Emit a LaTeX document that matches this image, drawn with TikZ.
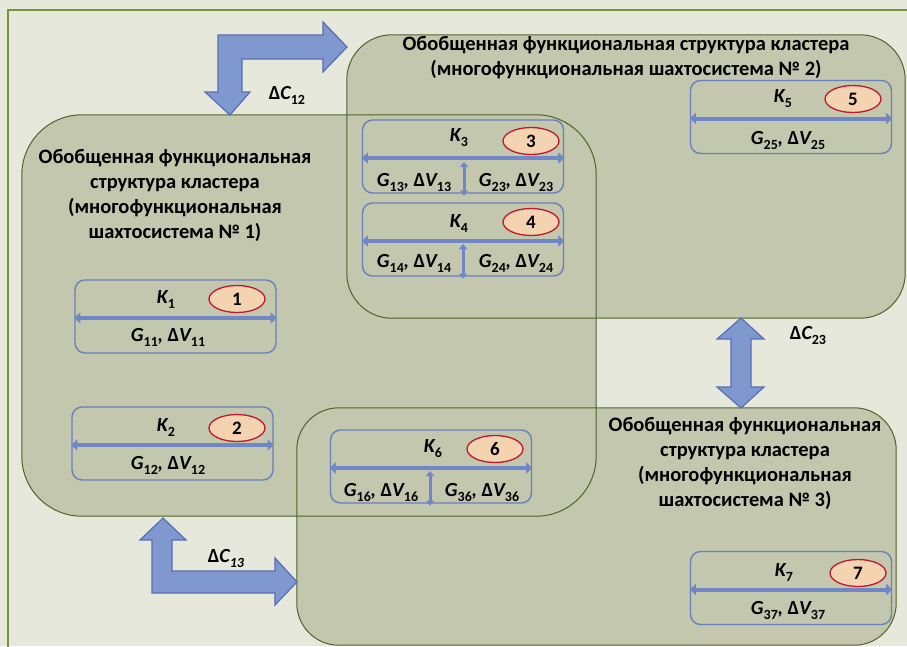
\documentclass[tikz,border=0pt]{standalone}
\usepackage{fontspec}
\setmainfont{Carlito}
\usetikzlibrary{arrows.meta,shapes.geometric}
\definecolor{bg}{HTML}{E7E8DC}
\definecolor{framec}{HTML}{77933C}
\definecolor{clfill}{HTML}{C3C7AD}
\definecolor{clline}{HTML}{4F6228}
\definecolor{arrfill}{HTML}{7F99CF}
\definecolor{arrline}{HTML}{5A6DB5}
\definecolor{kline}{HTML}{6A7FBE}
\definecolor{inarr}{HTML}{6F87C6}
\definecolor{elfill}{HTML}{F3D3B0}
\definecolor{elline}{HTML}{C0182F}
\newcommand{\sbs}[1]{\raisebox{-0.25em}{\fontsize{14}{14}\selectfont\bfseries\upshape #1}}
\newcommand{\isbs}[1]{\raisebox{-0.25em}{\fontsize{14}{14}\selectfont\bfseries\itshape #1}}
\newcommand{\Klab}[1]{{\bfseries\itshape K}\sbs{#1}}
\newcommand{\GV}[1]{{\bfseries\itshape G}\sbs{#1}{\bfseries\itshape ,} {\bfseries Δ}{\bfseries\itshape V}\sbs{#1}}
\tikzset{
  clbox/.style={rectangle, fill=clfill, inner sep=0pt},
  kbox/.style={rectangle, draw=kline, line width=1.4pt, rounded corners=10pt, minimum width=201pt, minimum height=73pt, inner sep=0pt},
  numell/.style={ellipse, draw=elline, line width=1.3pt, fill=elfill, minimum width=56pt, minimum height=27pt, inner sep=0pt, font=\fontsize{19}{19}\selectfont\bfseries},
  lab/.style={inner sep=0pt, font=\fontsize{20}{20}\selectfont},
  title/.style={inner sep=0pt, align=center, font=\fontsize{20.5}{25}\selectfont\bfseries},
  dblarr/.style={draw=inarr, line width=4pt, {Triangle[length=6pt,width=11pt]}-{Triangle[length=6pt,width=11pt]}},
  vdblarr/.style={draw=inarr, line width=3pt, {Triangle[length=5pt,width=8pt]}-{Triangle[length=5pt,width=8pt]}},
  bigarr/.style={fill=arrfill, draw=arrline, line width=1.2pt, line join=miter},
  clout/.style={draw=clline, line width=1pt}
}
\begin{document}
\begin{tikzpicture}[x=1pt, y=-1pt]
\clip (0,0) rectangle (907,646);
\fill[bg] (0,0) rectangle (907,646);
\draw[framec, line width=2.2pt] (8,10) rectangle (930,670);
% cluster fills
\node[clbox, rounded corners=60pt, minimum width=574pt, minimum height=401pt] (cl1) at (309,315.5) {};
\node[clbox, rounded corners=45pt, minimum width=558pt, minimum height=283pt] (cl2) at (626,176.5) {};
\node[clbox, rounded corners=42pt, minimum width=599pt, minimum height=237pt] (cl3) at (596.5,526.5) {};
% cluster outlines
\draw[clout, rounded corners=60pt] (cl1.north west) rectangle (cl1.south east);
\draw[clout, rounded corners=45pt] (cl2.north west) rectangle (cl2.south east);
\draw[clout, rounded corners=42pt] (cl3.north west) rectangle (cl3.south east);
% big arrows
\draw[bigarr] (230,115) -- (250,92) -- (242,92) -- (242,59) -- (323,59) -- (323,72) -- (347,47) -- (323,22) -- (323,35) -- (218,35) -- (218,92) -- (205,92) -- cycle;
\draw[bigarr] (163,518) -- (186,540) -- (172,540) -- (172,571) -- (275,571) -- (275,558) -- (297,582) -- (275,605) -- (275,593) -- (152,593) -- (152,540) -- (140,540) -- cycle;
\draw[bigarr] (741,318) -- (764,339) -- (751,339) -- (751,387) -- (764,387) -- (741,408) -- (717,387) -- (731,387) -- (731,339) -- (717,339) -- cycle;
\node[lab] (c12) at (287,95) {{\bfseries Δ}{\bfseries\itshape C}\sbs{12}};
\node[lab] (c13) at (226,558) {{\bfseries Δ}{\bfseries\itshape C}\isbs{13}};
\node[lab] (c23) at (808,335) {{\bfseries Δ}{\bfseries\itshape C}\sbs{23}};
% titles
\node[title] (t2) at (626,57.5) {Обобщенная функциональная структура кластера\\(многофункциональная шахтосистема № 2)};
\node[title] (t1) at (175,195) {Обобщенная функциональная\\структура кластера\\(многофункциональная\\шахтосистема № 1)};
\node[title] (t3) at (745,463) {Обобщенная функциональная\\структура кластера\\(многофункциональная\\шахтосистема № 3)};
% K boxes
\node[kbox] (k1) at (175.5,316.5) {};
\node[kbox] (k2) at (172.5,443.5) {};
\node[kbox] (k3) at (463,156.5) {};
\node[kbox] (k4) at (463,239.5) {};
\node[kbox] (k5) at (791,117) {};
\node[kbox] (k6) at (431,466.5) {};
\node[kbox] (k7) at (791,588) {};
% horizontal double arrows
\foreach \k in {k1,k2,k3,k4,k5,k6,k7}{
  \draw[dblarr] ([yshift=-1.5pt]\k.west) -- ([yshift=-1.5pt]\k.east);
}
% vertical double arrows
\coordinate (v3t) at (464,162); \coordinate (v3b) at ([yshift=-2pt]k3.south -| v3t);
\coordinate (v4t) at (463,244); \coordinate (v4b) at ([yshift=-2pt]k4.south -| v4t);
\coordinate (v6t) at (430,471); \coordinate (v6b) at ([yshift=-2pt]k6.south -| v6t);
\draw[vdblarr] (v3t) -- (v3b);
\draw[vdblarr] (v4t) -- (v4b);
\draw[vdblarr] (v6t) -- (v6b);
% labels K
\node[lab] (K1) at (166,300) {\Klab{1}};
\node[lab] (K2) at (166,428) {\Klab{2}};
\node[lab] (K3) at (459,138) {\Klab{3}};
\node[lab] (K4) at (459,224) {\Klab{4}};
\node[lab] (K5) at (783,99) {\Klab{5}};
\node[lab] (K6) at (433,449) {\Klab{6}};
\node[lab] (K7) at (784,572) {\Klab{7}};
% ellipses
\node[numell] (e1) at (237,299) {1};
\node[numell] (e2) at (237,428) {2};
\node[numell] (e3) at (531,141) {3};
\node[numell] (e4) at (531,222) {4};
\node[numell] (e5) at (853,99) {5};
\node[numell] (e6) at (495,449) {6};
\node[numell] (e7) at (858,573) {7};
% G texts
\node[lab] (g11) at (168,337) {\GV{11}};
\node[lab] (g12) at (168,465) {\GV{12}};
\node[lab] (g13) at (414,182) {\GV{13}};
\node[lab] (g23) at (516,182) {\GV{23}};
\node[lab] (g14) at (414,263) {\GV{14}};
\node[lab] (g24) at (516,263) {\GV{24}};
\node[lab] (g25) at (788,140) {\GV{25}};
\node[lab] (g16) at (381,492) {\GV{16}};
\node[lab] (g36) at (482,492) {\GV{36}};
\node[lab] (g37) at (788,610) {\GV{37}};
\end{tikzpicture}
\end{document}
